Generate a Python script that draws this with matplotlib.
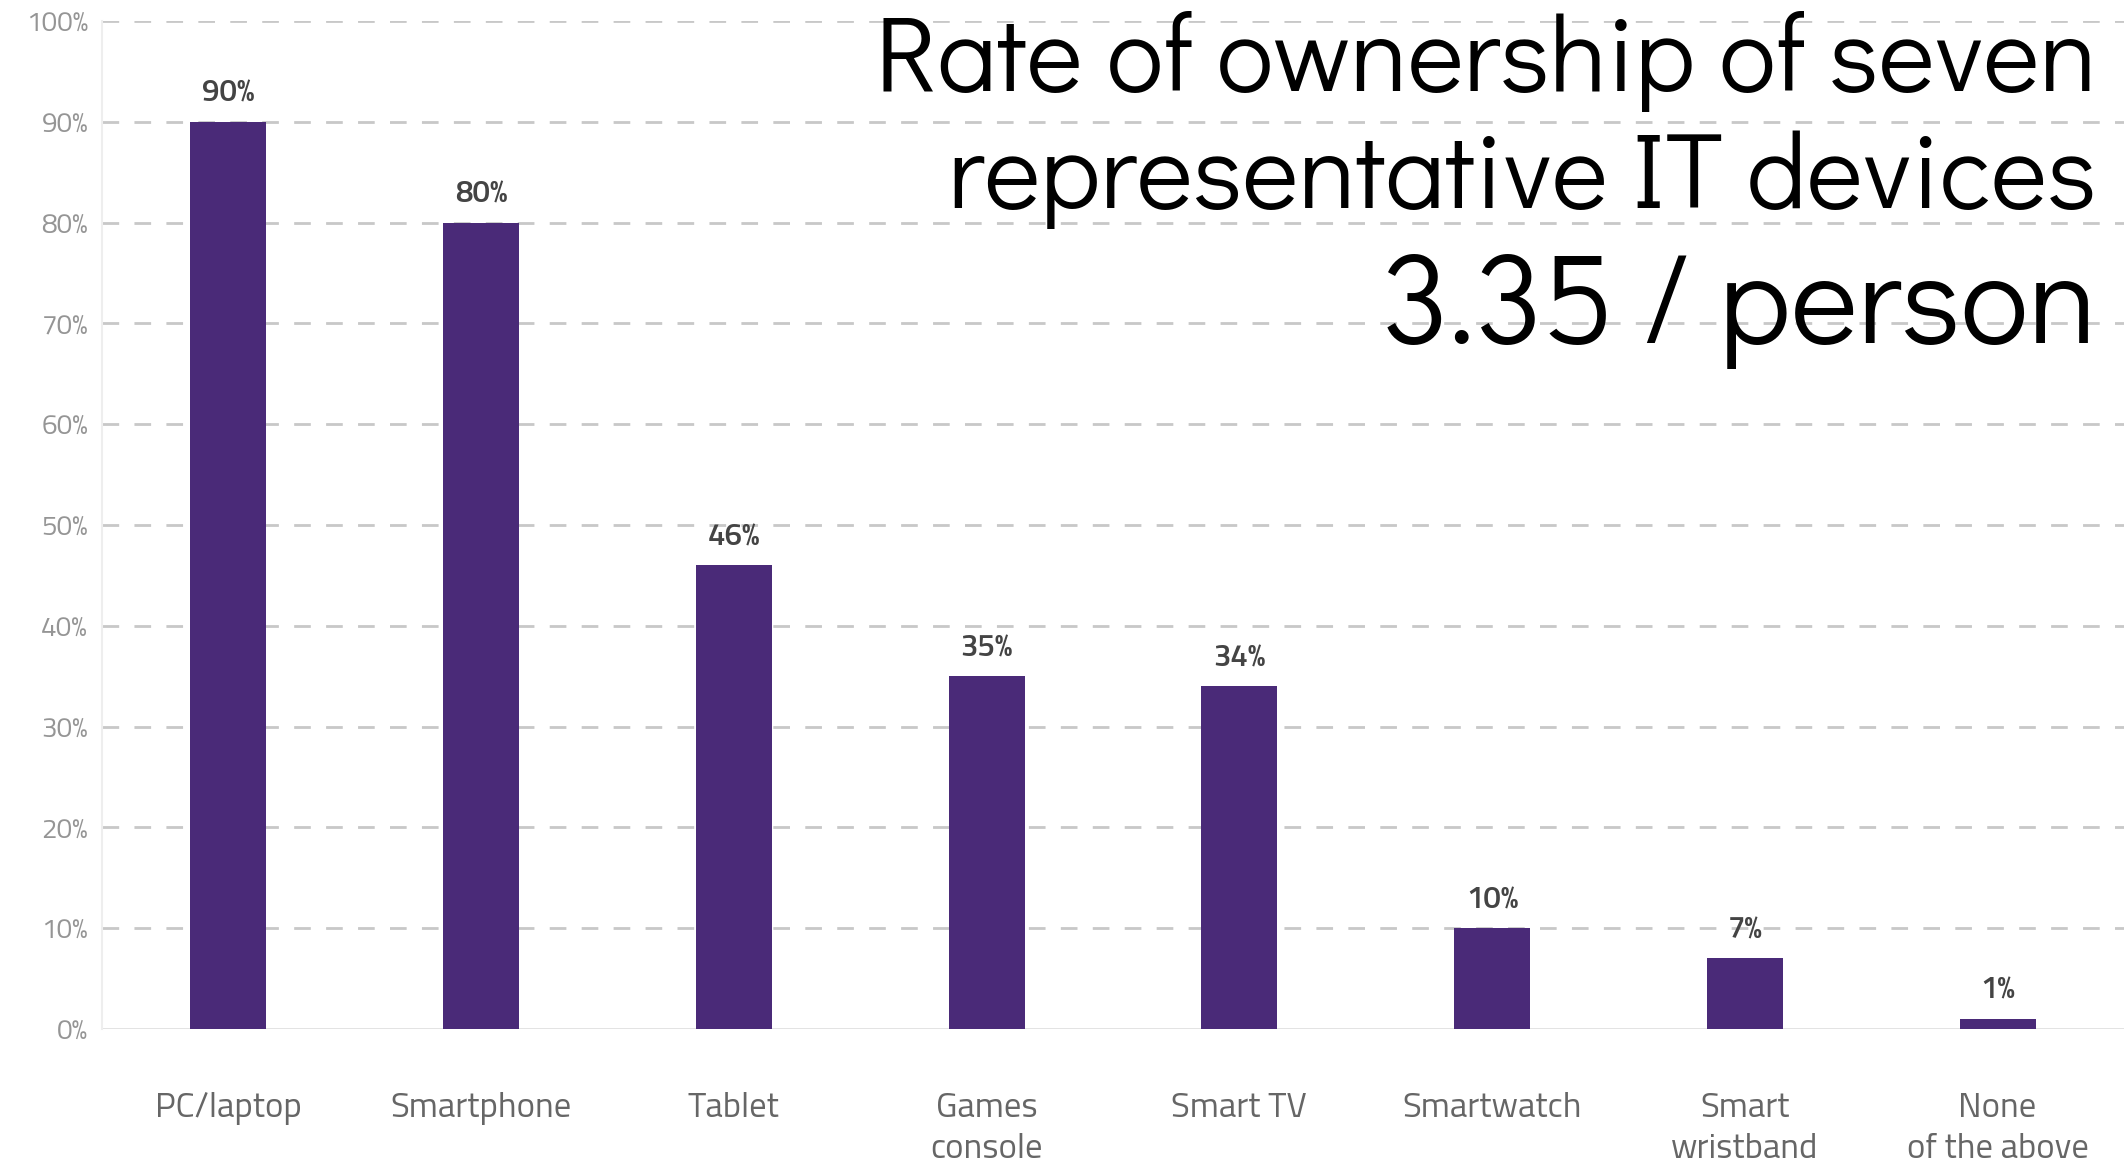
import numpy as np
import matplotlib
matplotlib.use("Agg")
import matplotlib.pyplot as plt

# device ownership rates (%)
DEVICES = ["PC/laptop", "Smartphone", "Tablet", "Games\nconsole", "Smart TV",
           "Smartwatch", "Smart\nwristband", "None\nof the above"]
RATES = [90, 80, 46, 35, 34, 10, 7, 1]
Y_TICKS = [0, 10, 20, 30, 40, 50, 60, 70, 80, 90, 100]
TITLE_LINES = ["Rate of ownership of seven", "representative IT devices", "3.35 / person"]

BAR_COLOR = '#4a2a78'
LABEL_FONT = ['Titillium Web', 'Roboto Condensed', 'DejaVu Sans']
TITLE_FONT = ['Didact Gothic', 'Questrial', 'Lato', 'DejaVu Sans']

fig = plt.figure(figsize=(21.24, 11.63), dpi=100)
ax = fig.add_axes([0.048, 0.1152, 0.952, 0.8668])

x = np.arange(len(DEVICES))
bars = ax.bar(x, RATES, width=0.30, color=BAR_COLOR, zorder=3)

for xi, v in zip(x, RATES):
  ax.annotate(f"{v}%", (xi, v), xytext=(0, 13), textcoords='offset pixels',
              ha='center', va='bottom', fontsize=22.5, color='#444444',
              family=LABEL_FONT, fontweight='semibold')

ax.set_xlim(-0.5, 7.5)
ax.set_ylim(0, 100)
ax.set_yticks(Y_TICKS)
ax.set_yticklabels([f"{t}%" for t in Y_TICKS], family=LABEL_FONT,
                   fontsize=20, color='#959595')
ax.set_xticks(x)
ax.set_xticklabels(DEVICES, family=LABEL_FONT, fontsize=25, color='#666666',
                   linespacing=1.35)
ax.tick_params(axis='both', length=0)
ax.tick_params(axis='x', pad=45)
ax.tick_params(axis='y', pad=10)

for t in Y_TICKS[1:]:
  ax.axhline(t, color='#c8c8c8', linestyle=(0, (6, 5.5)), linewidth=2, zorder=1)
ax.axhline(0, color='#e0e0e0', linewidth=2, zorder=2)

for s in ['top', 'right', 'bottom']:
  ax.spines[s].set_visible(False)
ax.spines['left'].set_color('#eeeeee')
ax.spines['left'].set_linewidth(1.5)

# title block, right aligned, placed on baselines
title_y = [0.9218, 0.8212, 0.7051]
title_size = [77, 77, 92]
for line, ty, ts in zip(TITLE_LINES, title_y, title_size):
  fig.text(0.987, ty, line, ha='right', va='baseline', fontsize=ts,
           family=TITLE_FONT, color='black', zorder=10)

plt.savefig("out.png", dpi=100)
